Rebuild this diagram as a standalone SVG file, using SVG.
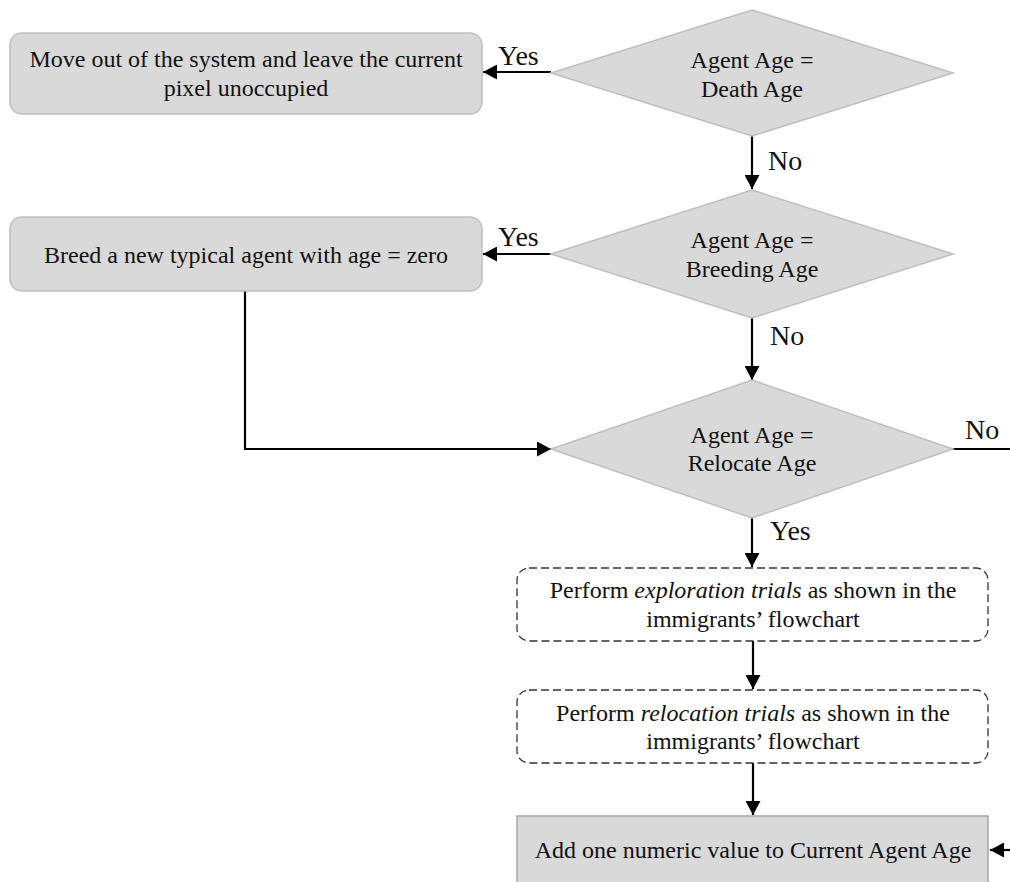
<svg xmlns="http://www.w3.org/2000/svg" width="1010" height="882" viewBox="0 0 1010 882">
<defs>
<marker id="ah" markerUnits="userSpaceOnUse" markerWidth="14" markerHeight="15" refX="14" refY="7.5" orient="auto">
<path d="M0,0 L14,7.5 L0,15 z" fill="#000"/>
</marker>
<style>
.box{fill:#d9d9d9;stroke:#bfbfbf;stroke-width:1.5}
.dia{fill:#d9d9d9;stroke:#bfbfbf;stroke-width:1.5}
.dash{fill:#fff;stroke:#333;stroke-width:1.3;stroke-dasharray:8 4}
.sq{fill:#d9d9d9;stroke:#a6a6a6;stroke-width:1.5}
.t{font-family:"Liberation Serif","Times New Roman",serif;font-size:24px;fill:#111;text-anchor:middle}
.lbl{font-family:"Liberation Serif","Times New Roman",serif;font-size:28px;fill:#111}
.c{fill:none;stroke:#000;stroke-width:2.2}
</style>
</defs>
<rect width="1010" height="882" fill="#fff"/>

<g id="connectors">
<line class="c" x1="551" y1="72" x2="483" y2="72" marker-end="url(#ah)"/>
<text class="lbl" x="498" y="65">Yes</text>
<line class="c" x1="752" y1="136" x2="752" y2="189" marker-end="url(#ah)"/>
<text class="lbl" x="768" y="170">No</text>
<line class="c" x1="551" y1="254" x2="483" y2="254" marker-end="url(#ah)"/>
<text class="lbl" x="498" y="246">Yes</text>
<line class="c" x1="752" y1="318" x2="752" y2="380" marker-end="url(#ah)"/>
<text class="lbl" x="770" y="345">No</text>
<polyline class="c" points="245,291 245,449 551,449" marker-end="url(#ah)"/>
<line class="c" x1="953" y1="449" x2="1010" y2="449"/>
<text class="lbl" x="965" y="439">No</text>
<line class="c" x1="752" y1="518" x2="752" y2="567" marker-end="url(#ah)"/>
<text class="lbl" x="770" y="540">Yes</text>
<line class="c" x1="753" y1="641" x2="753" y2="689" marker-end="url(#ah)"/>
<line class="c" x1="753" y1="763" x2="753" y2="815" marker-end="url(#ah)"/>
<line class="c" x1="1010" y1="850" x2="990" y2="850" marker-end="url(#ah)"/>
</g>

<g id="box-move-out">
<rect class="box" x="10" y="33" width="472" height="81" rx="12"/>
<text class="t" x="246" y="67">Move out of the system and leave the current</text>
<text class="t" x="246" y="96">pixel unoccupied</text>
</g>

<g id="dia-death">
<polygon class="dia" points="752,10 953,73 752,136 551,73"/>
<text class="t" x="752" y="68">Agent Age =</text>
<text class="t" x="752" y="97">Death Age</text>
</g>

<g id="box-breed">
<rect class="box" x="10" y="217" width="472" height="74" rx="12"/>
<text class="t" x="246" y="263">Breed a new typical agent with age = zero</text>
</g>

<g id="dia-breeding">
<polygon class="dia" points="752,190 953,254 752,318 551,254"/>
<text class="t" x="752" y="248">Agent Age =</text>
<text class="t" x="752" y="277">Breeding Age</text>
</g>

<g id="dia-relocate">
<polygon class="dia" points="752,380 953,449 752,518 551,449"/>
<text class="t" x="752" y="443">Agent Age =</text>
<text class="t" x="752" y="471">Relocate Age</text>
</g>

<g id="box-exploration">
<rect class="dash" x="517" y="568" width="471" height="73" rx="12"/>
<text class="t" x="753" y="598">Perform <tspan font-style="italic">exploration trials</tspan> as shown in the</text>
<text class="t" x="753" y="627">immigrants’ flowchart</text>
</g>

<g id="box-relocation">
<rect class="dash" x="517" y="690" width="471" height="73" rx="12"/>
<text class="t" x="753" y="721">Perform <tspan font-style="italic">relocation trials</tspan> as shown in the</text>
<text class="t" x="753" y="749">immigrants’ flowchart</text>
</g>

<g id="box-add">
<rect class="sq" x="517" y="816" width="471" height="80"/>
<text class="t" x="753" y="858">Add one numeric value to Current Agent Age</text>
</g>
</svg>
